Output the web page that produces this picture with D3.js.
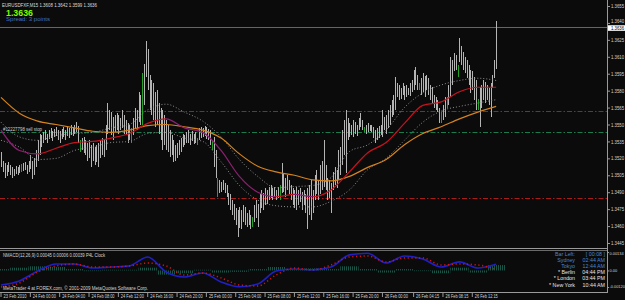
<!DOCTYPE html>
<html>
<head>
<meta charset="utf-8">
<script src="https://cdn.jsdelivr.net/npm/d3@7"></script>
<style>
  body { margin: 0; background: #0b0b0b; }
  svg { display: block; font-family: "Liberation Sans", Arial, sans-serif; }
</style>
</head>
<body>
<svg id="chart" width="625" height="300"></svg>
<script>
// EURUSD M15 bars, highs and lows (oldest first)
const highs = [
  1.3526,1.3518,1.3516,1.3514,1.3517,1.3514,1.3512,1.3511,1.3513,1.3512,
  1.3514,1.3515,1.3516,1.3517,1.3514,1.3518,1.3523,1.3518,1.3520,1.3527,
  1.3536,1.3542,1.3541,1.3543,1.3545,1.3542,1.3545,1.3547,1.3544,1.3546,
  1.3548,1.3545,1.3544,1.3546,1.3548,1.3545,1.3549,1.3547,1.3550,1.3548,
  1.3550,1.3552,1.3549,1.3536,1.3538,1.3539,1.3536,1.3534,1.3536,1.3532,
  1.3534,1.3530,1.3532,1.3534,1.3536,1.3538,1.3536,1.3550,1.3569,1.3563,
  1.3561,1.3557,1.3558,1.3560,1.3558,1.3556,1.3563,1.3558,1.3554,1.3551,
  1.3550,1.3547,1.3556,1.3565,1.3563,1.3579,1.3576,1.3596,1.3604,1.3624,
  1.3617,1.3594,1.3589,1.3587,1.3579,1.3581,1.3569,1.3565,1.3563,1.3558,
  1.3554,1.3550,1.3545,1.3541,1.3536,1.3532,1.3534,1.3536,1.3538,1.3542,
  1.3541,1.3543,1.3545,1.3542,1.3544,1.3542,1.3543,1.3538,1.3547,1.3548,
  1.3547,1.3549,1.3548,1.3546,1.3545,1.3536,1.3539,1.3527,1.3503,1.3501,
  1.3499,1.3501,1.3498,1.3496,1.3489,1.3488,1.3483,1.3480,1.3476,1.3474,
  1.3477,1.3474,1.3479,1.3477,1.3472,1.3474,1.3470,1.3468,1.3479,1.3483,
  1.3480,1.3488,1.3492,1.3489,1.3494,1.3492,1.3495,1.3496,1.3494,1.3495,
  1.3492,1.3495,1.3496,1.3516,1.3507,1.3503,1.3505,1.3501,1.3496,1.3494,
  1.3492,1.3495,1.3492,1.3494,1.3490,1.3492,1.3488,1.3494,1.3496,1.3501,
  1.3492,1.3505,1.3510,1.3501,1.3514,1.3518,1.3536,1.3514,1.3503,1.3501,
  1.3498,1.3508,1.3512,1.3510,1.3527,1.3530,1.3545,1.3554,1.3563,1.3556,
  1.3551,1.3550,1.3554,1.3552,1.3550,1.3556,1.3560,1.3554,1.3548,1.3550,
  1.3551,1.3550,1.3550,1.3548,1.3545,1.3547,1.3549,1.3550,1.3563,1.3557,
  1.3558,1.3563,1.3567,1.3572,1.3576,1.3592,1.3587,1.3585,1.3582,1.3587,
  1.3584,1.3585,1.3582,1.3587,1.3589,1.3598,1.3601,1.3594,1.3587,1.3591,
  1.3596,1.3593,1.3594,1.3591,1.3585,1.3583,1.3576,1.3574,1.3572,1.3565,
  1.3561,1.3567,1.3574,1.3574,1.3585,1.3610,1.3607,1.3613,1.3612,1.3603,
  1.3627,1.3620,1.3614,1.3610,1.3607,1.3603,1.3598,1.3597,1.3592,1.3589,
  1.3573,1.3583,1.3585,1.3589,1.3588,1.3585,1.3582,1.3587,1.3594,1.3607,
  1.3642
];
const lows = [
  1.3512,1.3508,1.3503,1.3504,1.3508,1.3505,1.3503,1.3504,1.3506,1.3505,
  1.3507,1.3508,1.3509,1.3510,1.3506,1.3508,1.3511,1.3502,1.3505,1.3512,
  1.3518,1.3523,1.3530,1.3534,1.3536,1.3534,1.3537,1.3538,1.3535,1.3539,
  1.3540,1.3536,1.3534,1.3537,1.3539,1.3536,1.3540,1.3538,1.3541,1.3540,
  1.3542,1.3543,1.3534,1.3526,1.3527,1.3525,1.3523,1.3518,1.3520,1.3512,
  1.3518,1.3514,1.3517,1.3512,1.3520,1.3523,1.3521,1.3527,1.3542,1.3545,
  1.3541,1.3536,1.3543,1.3545,1.3542,1.3545,1.3547,1.3542,1.3541,1.3534,
  1.3536,1.3534,1.3541,1.3547,1.3545,1.3552,1.3550,1.3550,1.3567,1.3592,
  1.3581,1.3563,1.3558,1.3554,1.3548,1.3550,1.3542,1.3536,1.3527,1.3532,
  1.3527,1.3526,1.3521,1.3523,1.3517,1.3518,1.3520,1.3523,1.3526,1.3530,
  1.3532,1.3534,1.3534,1.3532,1.3535,1.3533,1.3534,1.3532,1.3536,1.3538,
  1.3539,1.3540,1.3537,1.3536,1.3532,1.3527,1.3512,1.3503,1.3486,1.3489,
  1.3490,1.3492,1.3489,1.3486,1.3479,1.3474,1.3470,1.3465,1.3461,1.3450,
  1.3458,1.3457,1.3464,1.3461,1.3459,1.3461,1.3457,1.3459,1.3464,1.3467,
  1.3459,1.3472,1.3476,1.3474,1.3479,1.3480,1.3483,1.3485,1.3483,1.3486,
  1.3483,1.3485,1.3483,1.3489,1.3490,1.3486,1.3492,1.3488,1.3483,1.3479,
  1.3476,1.3474,1.3479,1.3481,1.3474,1.3479,1.3472,1.3457,1.3470,1.3465,
  1.3472,1.3483,1.3488,1.3483,1.3488,1.3492,1.3495,1.3492,1.3483,1.3485,
  1.3472,1.3492,1.3496,1.3494,1.3501,1.3505,1.3514,1.3523,1.3507,1.3536,
  1.3539,1.3541,1.3539,1.3542,1.3540,1.3545,1.3548,1.3545,1.3543,1.3542,
  1.3543,1.3544,1.3543,1.3538,1.3534,1.3536,1.3538,1.3541,1.3539,1.3545,
  1.3542,1.3547,1.3550,1.3557,1.3558,1.3563,1.3574,1.3572,1.3573,1.3576,
  1.3572,1.3574,1.3576,1.3575,1.3579,1.3581,1.3585,1.3581,1.3581,1.3576,
  1.3579,1.3574,1.3581,1.3576,1.3572,1.3569,1.3565,1.3563,1.3561,1.3551,
  1.3551,1.3554,1.3557,1.3565,1.3567,1.3574,1.3585,1.3597,1.3598,1.3592,
  1.3605,1.3603,1.3598,1.3596,1.3591,1.3585,1.3578,1.3581,1.3572,1.3563,
  1.3563,1.3548,1.3565,1.3572,1.3569,1.3572,1.3567,1.3557,1.3582,1.3591,
  1.3599
];
// bars drawn in green
const greenBars = [11, 43, 71, 77, 107, 115, 118, 137, 152, 198, 228, 240, 243, 249, 260];

// indicator lines, one value every 10 bars
const sampleStep = 10;
const maSlow = [1.3574,1.3560,1.3553,1.3550,1.3547,1.3544,1.3543,1.3545,1.3549,1.3550,1.3548,1.3545,1.3538,1.3524,
                1.3513,1.3508,1.3505,1.3501,1.3500,1.3504,1.3512,1.3519,1.3532,1.3542,1.3548,1.3555,1.3561,1.3566];
const maFast = [1.3545,1.3527,1.3524,1.3529,1.3534,1.3535,1.3538,1.3542,1.3551,1.3555,1.3547,1.3543,1.3527,1.3504,
                1.3490,1.3486,1.3488,1.3486,1.3492,1.3508,1.3525,1.3534,1.3551,1.3567,1.3570,1.3579,1.3583,1.3583];
const bandUpper = [1.3552,1.3539,1.3536,1.3540,1.3542,1.3543,1.3547,1.3550,1.3563,1.3568,1.3561,1.3553,1.3539,1.3519,
                   1.3504,1.3494,1.3495,1.3496,1.3503,1.3526,1.3532,1.3545,1.3565,1.3578,1.3585,1.3589,1.3591,1.3589];
const bandLower = [1.3536,1.3530,1.3519,1.3520,1.3527,1.3530,1.3534,1.3535,1.3542,1.3543,1.3538,1.3535,1.3517,1.3496,
                   1.3483,1.3478,1.3477,1.3477,1.3482,1.3492,1.3510,1.3520,1.3536,1.3552,1.3562,1.3566,1.3569,1.3572];
const macdMain = [-0.00105,-0.00076,-0.00004,0.00047,0.00047,0.00018,0.00025,0.00033,0.00098,-0.00011,-0.00047,-0.00018,-0.00083,-0.00118,
                  -0.00098,-0.00004,0.00011,0.00004,0.00025,0.00113,0.00125,0.00054,0.00105,0.00083,0.00025,0.00062,0.00018,0.00045];
const macdSignal = [-0.00120,-0.00091,-0.00011,0.00033,0.00047,0.00025,0.00025,0.00033,0.00054,0.00033,-0.00033,-0.00018,-0.00054,-0.00105,
                    -0.00113,-0.00033,0.00018,0.00004,0.00040,0.00098,0.00105,0.00062,0.00091,0.00091,0.00040,0.00047,0.00040,0.00006];
const macdHist = [0.00010,0.00020,0.00030,0.00025,0.00010,-0.00005,0.00005,0.00005,0.00020,-0.00030,-0.00020,0.00005,-0.00015,-0.00010,
                  0.00010,0.00025,0.00010,0.00015,0.00010,0.00030,0.00010,-0.00015,0.00010,-0.00005,-0.00020,0.00020,-0.00015,0.00039];

// order / level lines
const levelPrices = [1.3562, 1.3543, 1.3485];
const levelKinds = ['red', 'green', 'red'];
const orderText = '#12227798 sell stop';

// last bar and header
const symbol = 'EURUSDFXF,M15';
const lastOpen = 1.3608, lastClose = 1.3636;
const spreadText = 'Spread: 3 points';

// axes
const priceTicks = [1.3445,1.3460,1.3475,1.3490,1.3505,1.3520,1.3535,1.3550,1.3565,1.3580,1.3595,1.3610,1.3625,1.3640,1.3655];
const macdTicks = [0.00134, 0, -0.0012];
const macdTickLabels = ['0.00134', '0.00', '-0.00120'];
const timeTicks = [0,16,32,48,64,80,96,112,128,144,160,176,192,208,225,241,257];
const timeLabels = ['23 Feb 2010','24 Feb 00:00','24 Feb 04:00','24 Feb 08:00','24 Feb 12:00','24 Feb 16:00',
  '24 Feb 20:00','25 Feb 00:00','25 Feb 04:00','25 Feb 08:00','25 Feb 12:00','25 Feb 16:00','25 Feb 20:00',
  '26 Feb 00:00','26 Feb 04:15','26 Feb 08:15','26 Feb 12:15'];

// clock panel
const clockNames = ['Bar Left:', 'Sydney', 'Tokyo', '* Berlin', '* London', '* New York'];
const clockTimes = ['[ 00:08 ]', '02:44 AM', '12:44 AM', '04:44 PM', '03:44 PM', '10:44 AM'];
const clockLocal = [true, true, true, false, false, false];

const svg = d3.select('#chart');
const W = 625, axisX = 607, mainBottom = 248, subTop = 250, subBottom = 292;

svg.append('rect').attr('width', W).attr('height', 300).attr('fill', '#0b0b0b');

const x = d3.scaleLinear().domain([0, 331]).range([1, 608]);
const y = d3.scaleLinear().domain([1.3445, 1.3655]).range([243, 6]);
const ym = d3.scaleLinear().domain([-0.0012, 0.00134]).range([287, 252]);

const defs = svg.append('defs');
defs.append('clipPath').attr('id', 'mainClip')
  .append('rect').attr('x', 0).attr('y', 0).attr('width', axisX).attr('height', mainBottom);
defs.append('clipPath').attr('id', 'subClip')
  .append('rect').attr('x', 0).attr('y', subTop + 1).attr('width', axisX).attr('height', subBottom - subTop - 1);
const stripes = defs.append('pattern').attr('id', 'histStripes')
  .attr('patternUnits', 'userSpaceOnUse').attr('width', 2).attr('height', 4);
stripes.append('rect').attr('width', 1).attr('height', 4).attr('fill', '#1a5446');

// fast MA turns purple while falling
const grad = defs.append('linearGradient').attr('id', 'fastGrad')
  .attr('gradientUnits', 'userSpaceOnUse')
  .attr('x1', x(0)).attr('x2', x((maFast.length - 1) * sampleStep)).attr('y1', 0).attr('y2', 0);
const span = (maFast.length - 1);
maFast.slice(1).forEach((v, k) => {
  const col = v < maFast[k] ? '#8e1f72' : '#c8121e';
  grad.append('stop').attr('offset', k / span).attr('stop-color', col);
  grad.append('stop').attr('offset', (k + 1) / span).attr('stop-color', col);
});

const main = svg.append('g').attr('clip-path', 'url(#mainClip)');

// bid line
main.append('line').attr('x1', 0).attr('x2', axisX)
  .attr('y1', Math.round(y(lastClose)) + 0.5).attr('y2', Math.round(y(lastClose)) + 0.5)
  .attr('stroke', '#55697c').attr('stroke-width', 1);

// level lines
main.selectAll('.level').data(levelPrices).join('line')
  .attr('x1', 0).attr('x2', axisX)
  .attr('y1', d => Math.round(y(d)) + 0.5).attr('y2', d => Math.round(y(d)) + 0.5)
  .attr('stroke', (d, i) => levelKinds[i] === 'red' ? '#a81c1c' : '#1d7a4e')
  .attr('stroke-width', 1).attr('stroke-dasharray', '5,2,1.5,2');

main.append('text').attr('x', 3).attr('y', y(levelPrices[1]) - 1.5)
  .attr('font-size', 5).attr('fill', '#cfcfcf')
  .attr('textLength', 39).attr('lengthAdjust', 'spacingAndGlyphs').text(orderText);

// price bars
const greenSet = new Set(greenBars);
main.append('g').attr('shape-rendering', 'crispEdges').selectAll('line').data(highs).join('line')
  .attr('x1', (d, i) => Math.round(x(i)) + 0.5).attr('x2', (d, i) => Math.round(x(i)) + 0.5)
  .attr('y1', d => y(d)).attr('y2', (d, i) => y(lows[i]))
  .attr('stroke', (d, i) => greenSet.has(i) ? '#22a526' : '#b4b4b4')
  .attr('stroke-width', 1);

// indicator lines
const sampleLine = (scale) => d3.line()
  .x((d, k) => x(k * sampleStep)).y(d => scale(d)).curve(d3.curveMonotoneX);

[bandUpper, bandLower].forEach(band => {
  main.append('path').attr('d', sampleLine(y)(band)).attr('fill', 'none')
    .attr('stroke', '#8e8e8e').attr('stroke-width', 1).attr('stroke-dasharray', '1,2');
});
main.append('path').attr('d', sampleLine(y)(maSlow)).attr('fill', 'none')
  .attr('stroke', '#d4821e').attr('stroke-width', 1.2);
main.append('path').attr('d', sampleLine(y)(maFast)).attr('fill', 'none')
  .attr('stroke', 'url(#fastGrad)').attr('stroke-width', 1.2);

// MACD window
const sub = svg.append('g').attr('clip-path', 'url(#subClip)');
sub.append('g').selectAll('rect').data(macdHist).join('rect')
  .attr('x', (d, k) => x(k * sampleStep - sampleStep / 2))
  .attr('width', x(sampleStep) - x(0))
  .attr('y', d => Math.min(ym(d), ym(0)))
  .attr('height', d => Math.abs(ym(d) - ym(0)))
  .attr('fill', 'url(#histStripes)');
sub.append('path').attr('d', sampleLine(ym)(macdMain)).attr('fill', 'none')
  .attr('stroke', '#1f1fc4').attr('stroke-width', 1.6);
sub.append('path').attr('d', sampleLine(ym)(macdSignal)).attr('fill', 'none')
  .attr('stroke', '#d41414').attr('stroke-width', 1.5).attr('stroke-dasharray', '1.2,2.6');

// frame
const frame = svg.append('g').attr('stroke', '#9a9a9a').attr('shape-rendering', 'crispEdges');
frame.append('line').attr('x1', axisX + 0.5).attr('x2', axisX + 0.5).attr('y1', 0).attr('y2', subBottom + 1);
frame.append('line').attr('x1', 0).attr('x2', axisX).attr('y1', mainBottom + 0.5).attr('y2', mainBottom + 0.5);
frame.append('line').attr('x1', 0).attr('x2', axisX).attr('y1', subTop + 0.5).attr('y2', subTop + 0.5).attr('stroke', '#6a6a6a');
frame.append('line').attr('x1', 0).attr('x2', axisX).attr('y1', subBottom + 0.5).attr('y2', subBottom + 0.5);

// price axis
const yAxis = svg.append('g').attr('transform', `translate(${axisX},0)`)
  .call(d3.axisRight(y).tickValues(priceTicks).tickSize(3).tickFormat(d3.format('.4f')));
const macdAxis = svg.append('g').attr('transform', `translate(${axisX},0)`)
  .call(d3.axisRight(ym).tickValues(macdTicks).tickSize(2).tickFormat((d, i) => macdTickLabels[i]));
[yAxis, macdAxis].forEach(g => {
  g.select('.domain').remove();
  g.selectAll('line').attr('stroke', '#9a9a9a');
  g.selectAll('text').attr('fill', '#d6d6d6')
    .attr('font-family', '"Liberation Sans", Arial, sans-serif');
});
yAxis.selectAll('text').attr('x', 4).attr('font-size', 5)
  .attr('textLength', 13).attr('lengthAdjust', 'spacingAndGlyphs');
// the 1.3640 label sits just above the bid box
yAxis.selectAll('text').filter(d => d === 1.3640).attr('dy', '0');
// MACD labels are small enough to stay inside the window
macdAxis.selectAll('text').attr('x', 2.5).attr('font-size', 3.9);
macdAxis.selectAll('text').filter((d, i) => i === 0).attr('dy', '0.6em');
macdAxis.selectAll('text').filter((d, i) => i === 2).attr('dy', '0');

// bid price box
svg.append('rect').attr('x', axisX + 1).attr('y', y(lastClose) - 2.2).attr('width', W - axisX - 1).attr('height', 5.6)
  .attr('fill', '#ffffff');
svg.append('text').attr('x', axisX + 4).attr('y', y(lastClose) + 2.4).attr('font-size', 4.8).attr('fill', '#000')
  .attr('textLength', 13).attr('lengthAdjust', 'spacingAndGlyphs').text(d3.format('.4f')(lastClose));

// time axis
const xAxis = svg.append('g').attr('transform', `translate(0,${subBottom})`)
  .call(d3.axisBottom(x).tickValues(timeTicks).tickSize(5).tickFormat((d, i) => timeLabels[i]));
xAxis.select('.domain').remove();
xAxis.selectAll('line').attr('stroke', '#9a9a9a').attr('transform', 'translate(-0.5,0)');
xAxis.selectAll('text').attr('x', 2).attr('y', 6).attr('dy', 0).attr('text-anchor', 'start')
  .attr('fill', '#d6d6d6').attr('font-size', 5).attr('font-family', '"Liberation Sans", Arial, sans-serif')
  .attr('textLength', 23).attr('lengthAdjust', 'spacingAndGlyphs');

// header texts
const f4 = d3.format('.4f');
svg.append('text').attr('x', 2).attr('y', 7.3).attr('font-size', 5.5).attr('fill', '#dcdcdc')
  .attr('textLength', 95).attr('lengthAdjust', 'spacingAndGlyphs')
  .text(`${symbol}  ${f4(lastOpen)} ${f4(highs[highs.length - 1])} ${f4(lows[lows.length - 1])} ${f4(lastClose)}`);
svg.append('text').attr('x', 6).attr('y', 15.6).attr('font-size', 9).attr('font-weight', 'bold')
  .attr('fill', '#7cfc00').attr('textLength', 27).attr('lengthAdjust', 'spacingAndGlyphs').text(f4(lastClose));
svg.append('text').attr('x', 6).attr('y', 21.3).attr('font-size', 6).attr('fill', '#3f72c2')
  .attr('textLength', 44).attr('lengthAdjust', 'spacingAndGlyphs').text(spreadText);

// MACD label and copyright
const f5 = d3.format('.5f');
svg.append('text').attr('x', 3).attr('y', 257).attr('font-size', 5).attr('fill', '#d6d6d6')
  .attr('textLength', 102).attr('lengthAdjust', 'spacingAndGlyphs')
  .text(`NMACD(12,26,9) ${f5(macdMain.at(-1))} ${f5(macdSignal.at(-1))} ${f5(macdHist.at(-1))}  P4L Clock`);
svg.append('text').attr('x', 3).attr('y', 290).attr('font-size', 5).attr('fill', '#d6d6d6')
  .attr('textLength', 145).attr('lengthAdjust', 'spacingAndGlyphs')
  .text('MetaTrader 4 at FOREX.com, \u00a9 2001-2009 MetaQuotes Software Corp.');

// clock
const clock = svg.append('g').attr('font-size', 5.3);
clockNames.forEach((name, i) => {
  const col = clockLocal[i] ? '#4a86cc' : '#e6e6e6';
  const yy = 256 + i * 6.1;
  clock.append('text').attr('x', 575).attr('y', yy).attr('text-anchor', 'end').attr('fill', col).text(name);
  clock.append('text').attr('x', 605).attr('y', yy).attr('text-anchor', 'end').attr('fill', col).text(clockTimes[i]);
});
</script>
</body>
</html>
